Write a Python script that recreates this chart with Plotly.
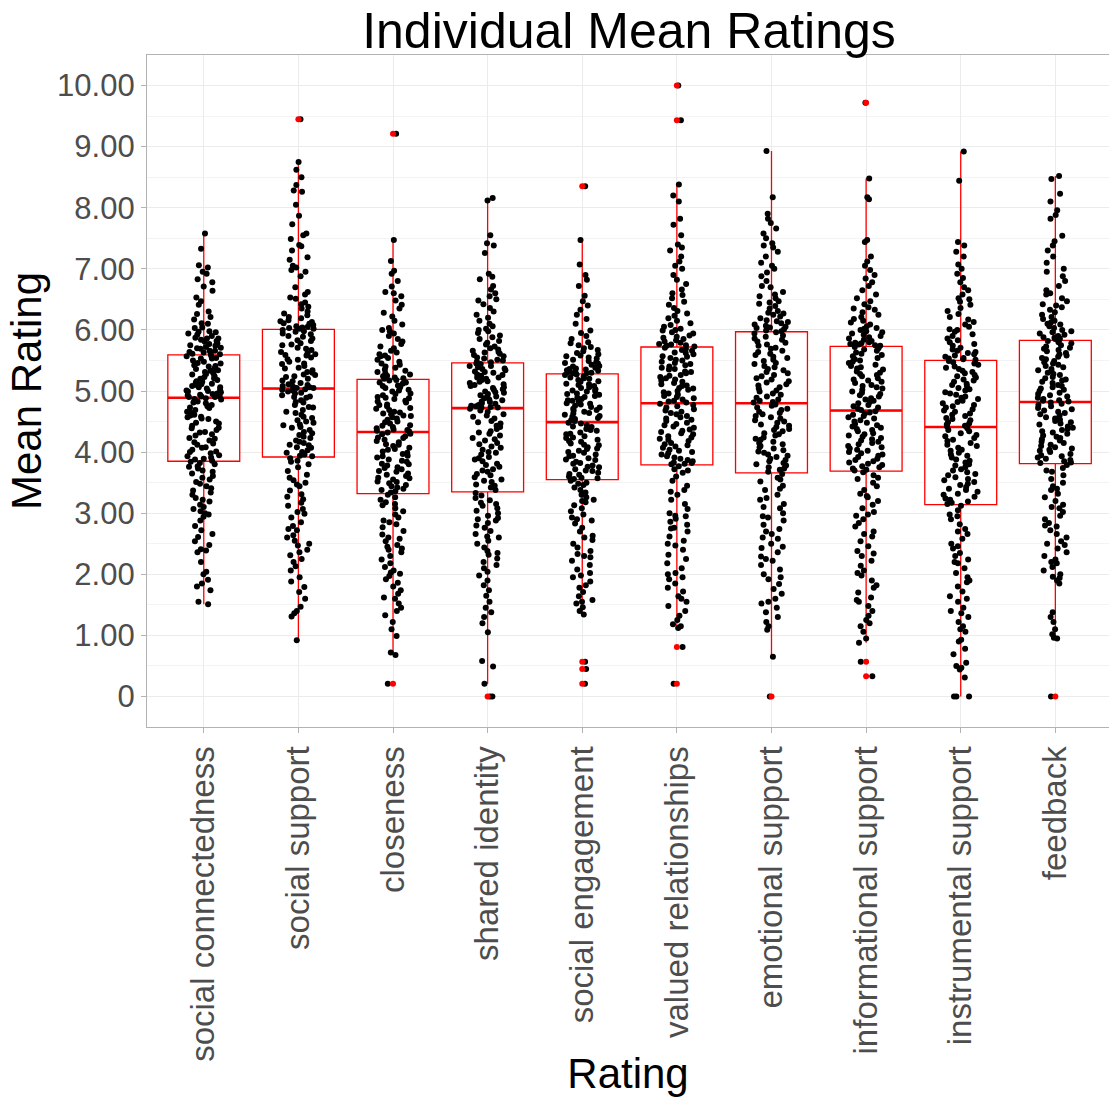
import plotly.graph_objects as go

# Rating categories (x axis order)
categories = [
    "social connectedness", "social support", "closeness", "shared identity",
    "social engagement", "valued relationships", "emotional support",
    "informational support", "instrumental support", "feedback",
]

# Individual mean ratings per category
social_connectedness = [
    7.58, 7.33, 7.06, 7.02, 6.95, 6.92, 6.83, 6.78, 6.71, 6.64, 6.53, 6.47, 6.41, 6.30, 6.26, 6.21,
    6.17, 6.11, 6.10, 6.04, 6.03, 5.98, 5.97, 5.94, 5.92, 5.90, 5.87, 5.86, 5.86, 5.82, 5.81, 5.78,
    5.77, 5.75, 5.74, 5.71, 5.70, 5.69, 5.66, 5.66, 5.64, 5.63, 5.62, 5.61, 5.60, 5.96, 5.84, 5.72,
    5.58, 5.57, 5.54, 5.53, 5.53, 5.50, 5.48, 5.46, 5.45, 5.42, 5.41, 5.40, 5.37, 5.36, 5.34, 5.33,
    5.29, 5.28, 5.27, 5.24, 5.23, 5.21, 5.20, 5.18, 5.16, 5.15, 5.12, 5.11, 5.10, 5.08, 5.06, 5.06,
    5.04, 5.02, 5.01, 4.99, 4.98, 4.96, 4.95, 4.94, 4.93, 4.92, 4.91, 4.90, 4.90, 5.31, 5.14, 5.00,
    4.88, 4.87, 4.86, 4.83, 4.81, 4.80, 4.77, 4.75, 4.73, 4.72, 4.69, 4.66, 4.65, 4.61, 4.60, 4.57,
    4.55, 4.54, 4.50, 4.48, 4.47, 4.43, 4.40, 4.39, 4.36, 4.33, 4.32, 4.29, 4.27, 4.23, 4.22, 4.19,
    4.16, 4.14, 4.12, 4.08, 4.07, 4.04, 4.01, 4.00, 3.98, 3.95, 3.93, 3.91, 3.89, 3.88, 3.86, 4.58,
    3.84, 3.82, 3.80, 3.77, 3.76, 3.73, 3.70, 3.68, 3.65, 3.61, 3.58, 3.55, 3.51, 3.48, 3.44, 3.41,
    3.37, 3.34, 3.30, 3.25, 3.22, 3.19, 3.14, 3.10, 3.07, 3.03, 3.00, 2.98, 2.94, 2.88, 2.79, 2.72,
    2.66, 2.61, 2.54, 2.48, 2.41, 2.39, 2.36, 2.20, 2.04, 2.00, 1.91, 1.85, 1.80, 1.74, 1.55, 1.51,
]
social_support = [
    9.45,
    8.75, 8.62, 8.50, 8.37, 8.28, 8.26, 8.05, 7.87, 7.73, 7.58, 7.55, 7.49, 7.39, 7.37, 7.30, 7.19,
    7.15, 7.05, 7.02, 6.98, 6.95, 6.88, 6.70, 6.62, 6.53, 6.51, 6.45, 6.38, 6.35, 6.30, 6.24, 6.21,
    6.19, 6.16, 6.13, 6.11, 6.08, 6.06, 6.05, 6.04, 6.03, 6.02, 6.02, 6.14, 6.27, 6.42, 6.58, 6.10,
    6.00, 5.98, 5.97, 5.94, 5.93, 5.90, 5.89, 5.86, 5.83, 5.82, 5.78, 5.76, 5.75, 5.71, 5.69, 5.67,
    5.64, 5.62, 5.59, 5.58, 5.55, 5.52, 5.51, 5.48, 5.45, 5.44, 5.41, 5.38, 5.37, 5.34, 5.31, 5.30,
    5.27, 5.24, 5.23, 5.20, 5.17, 5.16, 5.13, 5.11, 5.10, 5.08, 5.07, 5.06, 5.05, 5.05, 5.60, 5.26,
    5.03, 5.02, 5.01, 4.99, 4.97, 4.96, 4.93, 4.90, 4.89, 4.85, 4.82, 4.81, 4.77, 4.74, 4.73, 4.69,
    4.66, 4.64, 4.61, 4.58, 4.56, 4.52, 4.50, 4.48, 4.44, 4.41, 4.40, 4.36, 4.33, 4.31, 4.28, 4.25,
    4.23, 4.19, 4.17, 4.15, 4.11, 4.08, 4.07, 4.03, 4.00, 3.99, 3.96, 3.94, 3.93, 4.91, 4.45, 4.12,
    3.90, 3.86, 3.80, 3.75, 3.69, 3.63, 3.58, 3.54, 3.50, 3.44, 3.37, 3.31, 3.23, 3.17, 3.12, 3.07,
    2.99, 2.93, 2.85, 2.79, 2.74, 2.72, 2.64, 2.55, 2.50, 2.47, 2.40, 2.36, 2.31, 2.25, 2.20, 2.13,
    2.06, 1.95, 1.79, 1.71, 1.60, 1.47, 1.40, 1.36, 1.31, 0.92, 3.84, 3.47, 3.02, 2.60, 1.88, 3.27,
]
closeness = [
    9.21,
    7.47, 7.13, 6.97, 6.92, 6.80, 6.71, 6.62, 6.55, 6.48, 6.41, 6.35, 6.28, 6.22, 6.15, 6.09, 6.03,
    5.98, 5.94, 5.90, 5.85, 5.81, 5.77, 5.73, 5.70, 5.66, 5.63, 5.60, 5.57, 5.54, 5.51, 5.48, 5.45,
    5.43, 5.40, 5.38, 5.35, 5.33, 5.31, 5.29, 5.27, 5.25, 5.24, 5.22, 5.21, 5.20, 6.60, 6.00, 5.58,
    5.18, 5.17, 5.14, 5.14, 5.12, 5.09, 5.08, 5.06, 5.05, 5.02, 5.01, 4.99, 4.96, 4.95, 4.93, 4.90,
    4.89, 4.87, 4.84, 4.83, 4.81, 4.78, 4.77, 4.75, 4.72, 4.71, 4.69, 4.66, 4.65, 4.63, 4.60, 4.59,
    4.57, 4.55, 4.53, 4.50, 4.49, 4.47, 4.44, 4.43, 4.41, 4.39, 4.37, 4.36, 4.35, 4.34, 4.88, 4.62,
    4.32, 4.30, 4.29, 4.26, 4.24, 4.23, 4.20, 4.18, 4.16, 4.13, 4.12, 4.10, 4.07, 4.05, 4.04, 4.01,
    3.99, 3.97, 3.94, 3.93, 3.91, 3.88, 3.86, 3.84, 3.81, 3.80, 3.78, 3.75, 3.74, 3.72, 3.69, 3.68,
    3.65, 3.63, 3.61, 3.58, 3.57, 3.55, 3.52, 3.51, 3.49, 3.46, 3.44, 3.42, 3.40, 3.38, 3.36, 3.34,
    3.30, 3.26, 3.22, 3.18, 3.13, 3.08, 3.03, 2.98, 2.93, 2.88, 2.82, 2.77, 2.71, 2.65, 2.60, 2.54,
    2.48, 2.42, 2.40, 2.36, 2.30, 2.24, 2.18, 2.12, 2.06, 2.01, 1.97, 1.92, 1.86, 1.80, 1.74, 1.68,
    1.60, 1.52, 1.45, 1.40, 1.33, 1.22, 1.10, 0.99, 0.72, 0.68, 2.45, 2.03, 1.62, 3.15, 2.85, 2.58,
    0.21,
]
shared_identity = [
    8.16, 8.12, 7.55, 7.42, 7.38, 7.26, 6.92, 6.87, 6.83, 6.72, 6.66, 6.60, 6.55, 6.48, 6.42, 6.36,
    6.30, 6.25, 6.20, 6.15, 6.10, 6.06, 6.02, 5.98, 5.95, 5.91, 5.88, 5.85, 5.82, 5.79, 5.76, 5.73,
    5.70, 5.68, 5.66, 5.63, 5.61, 5.59, 5.57, 5.55, 5.53, 5.51, 5.50, 5.48, 5.47, 6.50, 6.00, 5.64,
    5.45, 5.44, 5.41, 5.41, 5.39, 5.37, 5.36, 5.34, 5.32, 5.31, 5.30, 5.27, 5.26, 5.25, 5.22, 5.22,
    5.20, 5.18, 5.16, 5.15, 5.13, 5.11, 5.10, 5.08, 5.06, 5.05, 5.03, 5.02, 4.99, 4.98, 4.97, 4.95,
    4.93, 4.91, 4.90, 4.88, 4.86, 4.85, 4.83, 4.82, 4.80, 4.79, 4.77, 4.76, 4.75, 4.74, 4.73, 4.73,
    4.71, 4.68, 4.66, 4.62, 4.60, 4.58, 4.55, 4.51, 4.49, 4.47, 4.43, 4.41, 4.38, 4.34, 4.32, 4.30,
    4.27, 4.23, 4.21, 4.19, 4.15, 4.13, 4.09, 4.07, 4.04, 4.00, 3.99, 3.96, 3.92, 3.90, 3.88, 3.85,
    3.81, 3.79, 3.76, 3.72, 3.70, 3.68, 3.64, 3.62, 3.59, 3.55, 3.53, 3.51, 3.47, 3.45, 3.42, 3.38,
    3.33, 3.29, 3.25, 3.21, 3.17, 3.12, 3.08, 3.04, 3.00, 2.96, 2.92, 2.88, 2.84, 2.80, 2.76, 2.71,
    2.66, 2.60, 2.55, 2.50, 2.44, 2.38, 2.32, 2.26, 2.20, 2.15, 2.10, 2.04, 1.98, 1.90, 1.82, 1.74,
    1.65, 1.55, 1.45, 1.38, 1.30, 1.20, 1.05, 0.58, 0.49, 0.21, 0.00, 0.00, 3.15, 2.90, 2.62, 2.35,
]
social_engagement = [
    8.35,
    7.47, 7.07, 6.90, 6.82, 6.72, 6.56, 6.47, 6.40, 6.33, 6.25, 6.18, 6.10, 5.99, 5.95, 5.90, 5.85,
    5.80, 5.78, 5.75, 5.72, 5.70, 5.67, 5.65, 5.62, 5.60, 5.58, 5.55, 5.53, 5.51, 5.49, 5.47, 5.45,
    5.43, 5.41, 5.40, 5.38, 5.37, 5.35, 5.34, 5.33, 5.32, 5.31, 5.30, 5.29, 5.29, 5.57, 5.46, 5.36,
    5.27, 5.26, 5.24, 5.22, 5.21, 5.20, 5.18, 5.16, 5.15, 5.12, 5.11, 5.10, 5.08, 5.06, 5.05, 5.03,
    5.01, 5.00, 4.99, 4.96, 4.95, 4.94, 4.92, 4.90, 4.89, 4.87, 4.85, 4.84, 4.83, 4.80, 4.79, 4.78,
    4.76, 4.74, 4.73, 4.71, 4.69, 4.68, 4.66, 4.64, 4.63, 4.61, 4.59, 4.58, 4.56, 4.54, 4.52, 4.51,
    4.48, 4.47, 4.44, 4.42, 4.41, 4.38, 4.36, 4.35, 4.32, 4.30, 4.29, 4.26, 4.24, 4.23, 4.20, 4.18,
    4.17, 4.14, 4.12, 4.11, 4.08, 4.06, 4.05, 4.02, 4.00, 3.99, 3.96, 3.94, 3.93, 3.90, 3.88, 3.87,
    3.84, 3.82, 3.81, 3.78, 3.76, 3.75, 3.72, 3.70, 3.69, 3.66, 3.64, 3.63, 3.60, 3.58, 3.57, 3.56,
    3.53, 3.50, 3.46, 3.42, 3.38, 3.34, 3.30, 3.26, 3.22, 3.18, 3.13, 3.08, 3.03, 2.98, 2.93, 2.88,
    2.83, 2.76, 2.70, 2.63, 2.56, 2.50, 2.44, 2.38, 2.33, 2.28, 2.22, 2.15, 2.08, 2.02, 1.95, 1.88,
    1.82, 1.78, 1.71, 1.64, 1.58, 1.52, 1.46, 1.40, 1.34, 3.48, 3.20, 2.90, 2.60, 2.30, 1.98, 1.55,
    0.57, 0.45, 0.21,
]
valued_relationships = [
    10.00, 9.43,
    8.38, 8.20, 8.10, 7.82, 7.72, 7.55, 7.40, 7.35, 7.30, 7.20, 7.12, 7.05, 7.00, 6.90, 6.82, 6.75,
    6.66, 6.57, 6.52, 6.46, 6.41, 6.36, 6.31, 6.27, 6.23, 6.19, 6.15, 6.11, 6.08, 6.05, 6.02, 5.99,
    5.96, 5.94, 5.91, 5.89, 5.87, 5.85, 5.83, 5.81, 5.79, 5.77, 5.76, 5.75, 5.74, 5.73, 6.60, 6.00,
    5.71, 5.69, 5.67, 5.66, 5.63, 5.62, 5.60, 5.57, 5.56, 5.54, 5.51, 5.50, 5.48, 5.46, 5.44, 5.42,
    5.40, 5.38, 5.36, 5.35, 5.32, 5.31, 5.29, 5.26, 5.25, 5.23, 5.21, 5.19, 5.17, 5.15, 5.13, 5.11,
    5.09, 5.08, 5.05, 5.04, 5.02, 5.00, 4.98, 4.96, 4.94, 4.92, 4.90, 4.88, 4.86, 4.84, 4.83, 4.81,
    4.79, 4.77, 4.75, 4.73, 4.70, 4.68, 4.66, 4.64, 4.62, 4.59, 4.57, 4.55, 4.53, 4.51, 4.48, 4.46,
    4.44, 4.42, 4.40, 4.37, 4.35, 4.33, 4.31, 4.29, 4.26, 4.24, 4.22, 4.20, 4.18, 4.15, 4.13, 4.11,
    4.09, 4.07, 4.04, 4.02, 4.00, 3.98, 3.96, 3.93, 3.91, 3.89, 3.87, 3.85, 3.83, 3.82, 3.81, 3.80,
    3.77, 3.72, 3.66, 3.60, 3.53, 3.45, 3.38, 3.30, 3.22, 3.15, 3.07, 3.00, 2.96, 2.91, 2.86, 2.81,
    2.76, 2.70, 2.62, 2.55, 2.47, 2.40, 2.32, 2.25, 2.18, 2.10, 2.02, 1.95, 1.92, 1.85, 1.78, 1.72,
    1.64, 1.55, 1.48, 1.40, 1.32, 1.25, 1.18, 1.15, 1.12, 3.70, 3.35, 2.95, 2.75, 2.50, 2.00, 1.60,
    0.81, 0.21,
]
emotional_support = [
    8.93, 8.17, 7.90, 7.82, 7.75, 7.66, 7.58, 7.50, 7.42, 7.35, 7.28, 7.20, 7.05, 7.00, 6.94, 6.88,
    6.80, 6.72, 6.58, 6.52, 6.47, 6.43, 6.39, 6.35, 6.31, 6.28, 6.25, 6.22, 6.19, 6.16, 6.13, 6.11,
    6.09, 6.07, 6.05, 6.03, 6.01, 5.99, 5.98, 6.62, 6.45, 6.27, 6.14, 6.04, 7.38, 7.10, 6.70, 6.55,
    5.96, 5.94, 5.91, 5.89, 5.86, 5.84, 5.81, 5.79, 5.76, 5.74, 5.71, 5.69, 5.66, 5.64, 5.61, 5.59,
    5.56, 5.54, 5.51, 5.49, 5.46, 5.44, 5.41, 5.39, 5.36, 5.34, 5.31, 5.29, 5.26, 5.24, 5.21, 5.19,
    5.16, 5.14, 5.11, 5.09, 5.06, 5.04, 5.01, 4.99, 4.96, 4.94, 4.91, 4.89, 4.86, 4.84, 4.82, 4.81,
    4.78, 4.76, 4.73, 4.71, 4.69, 4.66, 4.64, 4.62, 4.59, 4.57, 4.55, 4.52, 4.50, 4.48, 4.45, 4.43,
    4.41, 4.38, 4.36, 4.34, 4.31, 4.29, 4.27, 4.24, 4.22, 4.20, 4.17, 4.15, 4.13, 4.10, 4.08, 4.06,
    4.03, 4.01, 3.99, 3.96, 3.94, 3.92, 3.89, 3.87, 3.85, 3.82, 3.80, 3.78, 3.75, 3.73, 3.71, 3.68,
    3.64, 3.58, 3.52, 3.45, 3.38, 3.30, 3.22, 3.15, 3.08, 3.00, 2.93, 2.88, 2.81, 2.74, 2.66, 2.58,
    2.50, 2.43, 2.36, 2.29, 2.22, 2.15, 2.08, 2.00, 1.92, 1.84, 1.76, 1.68, 1.60, 1.52, 1.45, 1.38,
    1.30, 1.22, 1.15, 1.09, 0.65, 3.55, 3.25, 2.95, 2.70, 2.45, 2.25, 1.95, 1.55, 3.40, 3.10, 2.60,
    0.00,
]
informational_support = [
    9.72,
    8.48, 8.17, 8.14, 7.47, 7.44, 7.20, 7.12, 7.05, 6.98, 6.90, 6.84, 6.78, 6.72, 6.58, 6.52, 6.47,
    6.42, 6.37, 6.33, 6.29, 6.25, 6.21, 6.18, 6.15, 6.12, 6.09, 6.06, 6.03, 6.00, 5.98, 5.96, 5.94,
    5.92, 5.90, 5.88, 5.86, 5.84, 5.82, 5.80, 5.79, 5.78, 5.77, 5.76, 5.75, 5.74, 6.65, 6.35, 6.02,
    5.72, 5.70, 5.68, 5.66, 5.63, 5.61, 5.59, 5.57, 5.54, 5.52, 5.50, 5.48, 5.46, 5.43, 5.41, 5.39,
    5.37, 5.35, 5.32, 5.30, 5.28, 5.26, 5.24, 5.21, 5.19, 5.17, 5.15, 5.13, 5.10, 5.08, 5.06, 5.04,
    5.02, 4.99, 4.97, 4.95, 4.93, 4.91, 4.88, 4.86, 4.84, 4.82, 4.80, 4.77, 4.75, 4.73, 4.71, 4.69,
    4.67, 4.65, 4.63, 4.61, 4.59, 4.57, 4.55, 4.52, 4.50, 4.48, 4.46, 4.44, 4.42, 4.40, 4.38, 4.36,
    4.34, 4.31, 4.29, 4.27, 4.25, 4.23, 4.21, 4.19, 4.17, 4.15, 4.13, 4.10, 4.08, 4.06, 4.04, 4.02,
    4.00, 3.98, 3.96, 3.94, 3.92, 3.89, 3.87, 3.85, 3.83, 3.81, 3.79, 3.77, 3.75, 3.73, 3.71, 3.70,
    3.67, 3.62, 3.56, 3.50, 3.44, 3.38, 3.32, 3.26, 3.20, 3.14, 3.08, 3.02, 2.96, 2.90, 2.84, 2.78,
    2.70, 2.62, 2.54, 2.46, 2.38, 2.30, 2.22, 2.14, 2.06, 1.98, 1.90, 1.82, 1.78, 1.70, 1.62, 1.55,
    1.48, 1.40, 1.32, 1.25, 1.15, 1.06, 0.95, 0.88, 3.58, 3.28, 2.98, 2.66, 2.34, 2.02, 1.58, 1.20,
    0.57, 0.33,
]
instrumental_support = [
    8.92, 8.44, 7.44, 7.38, 7.28, 7.20, 7.07, 7.00, 6.92, 6.85, 6.78, 6.70, 6.65, 6.58, 6.52, 6.46,
    6.41, 6.36, 6.31, 6.26, 6.21, 6.17, 6.13, 6.09, 6.05, 6.01, 5.97, 5.93, 5.90, 5.86, 5.83, 5.80,
    5.77, 5.74, 5.71, 5.68, 5.66, 5.64, 5.62, 5.60, 5.58, 5.56, 5.54, 5.53, 5.52, 5.51, 6.50, 6.00,
    5.49, 5.47, 5.45, 5.43, 5.40, 5.38, 5.36, 5.33, 5.31, 5.29, 5.26, 5.24, 5.22, 5.19, 5.17, 5.15,
    5.12, 5.10, 5.08, 5.05, 5.03, 5.01, 4.98, 4.96, 4.94, 4.91, 4.89, 4.87, 4.84, 4.82, 4.80, 4.77,
    4.75, 4.73, 4.70, 4.68, 4.66, 4.63, 4.61, 4.59, 4.56, 4.54, 4.52, 4.49, 4.47, 4.45, 4.43, 4.42,
    4.39, 4.36, 4.34, 4.31, 4.28, 4.26, 4.23, 4.20, 4.18, 4.15, 4.12, 4.10, 4.07, 4.04, 4.02, 3.99,
    3.96, 3.94, 3.91, 3.88, 3.86, 3.83, 3.80, 3.78, 3.75, 3.72, 3.70, 3.67, 3.64, 3.62, 3.59, 3.56,
    3.54, 3.51, 3.48, 3.46, 3.43, 3.40, 3.38, 3.35, 3.32, 3.30, 3.27, 3.24, 3.22, 3.19, 3.17, 3.15,
    3.12, 3.05, 2.98, 2.90, 2.82, 2.74, 2.66, 2.58, 2.50, 2.42, 2.35, 2.30, 2.24, 2.18, 2.10, 2.02,
    1.95, 1.87, 1.80, 1.72, 1.64, 1.55, 1.45, 1.36, 1.30, 1.22, 1.10, 1.06, 0.93, 0.90, 0.69, 0.55,
    0.50, 0.47, 0.44, 0.31, 0.00, 0.00, 0.00, 2.95, 2.70, 2.46, 2.20, 1.90, 1.60, 1.40, 1.15, 0.78,
]
feedback = [
    8.52, 8.47, 8.23, 8.10, 7.96, 7.88, 7.82, 7.54, 7.45, 7.38, 7.30, 7.20, 7.00, 6.95, 6.88, 6.80,
    6.72, 6.65, 6.58, 6.52, 6.47, 6.42, 6.37, 6.33, 6.29, 6.25, 6.21, 6.18, 6.15, 6.12, 6.09, 6.06,
    6.03, 6.00, 5.98, 5.96, 5.94, 5.92, 5.90, 5.88, 5.87, 5.86, 5.85, 5.84, 6.60, 6.40, 6.10, 7.10,
    5.82, 5.80, 5.78, 5.75, 5.73, 5.71, 5.69, 5.67, 5.65, 5.62, 5.60, 5.58, 5.56, 5.54, 5.52, 5.49,
    5.47, 5.45, 5.43, 5.41, 5.39, 5.36, 5.34, 5.32, 5.30, 5.28, 5.26, 5.23, 5.21, 5.19, 5.17, 5.15,
    5.13, 5.10, 5.08, 5.06, 5.04, 5.02, 5.00, 4.97, 4.95, 4.93, 4.91, 4.89, 4.87, 4.85, 4.84, 4.83,
    4.81, 4.79, 4.77, 4.75, 4.72, 4.70, 4.68, 4.66, 4.64, 4.62, 4.60, 4.57, 4.55, 4.53, 4.51, 4.49,
    4.47, 4.45, 4.42, 4.40, 4.38, 4.36, 4.34, 4.32, 4.30, 4.27, 4.25, 4.23, 4.21, 4.19, 4.17, 4.15,
    4.12, 4.10, 4.08, 4.06, 4.04, 4.02, 4.00, 3.97, 3.95, 3.93, 3.91, 3.89, 3.87, 3.85, 3.83, 3.82,
    3.79, 3.74, 3.68, 3.62, 3.56, 3.50, 3.44, 3.38, 3.32, 3.26, 3.20, 3.14, 3.08, 3.02, 2.96, 2.90,
    2.84, 2.78, 2.72, 2.66, 2.60, 2.54, 2.48, 2.42, 2.36, 2.30, 2.24, 2.18, 2.12, 2.06, 2.00, 1.94,
    1.90, 1.85, 1.38, 1.30, 1.22, 1.10, 1.02, 0.96, 0.95, 3.70, 3.40, 3.10, 2.80, 2.50, 2.20, 1.96,
    0.00,
]

# Box summary per category (same order as categories)
q1 = [3.85, 3.92, 3.32, 3.35, 3.55, 3.79, 3.66, 3.69, 3.14, 3.81]
medians = [4.89, 5.04, 4.33, 4.72, 4.49, 4.80, 4.80, 4.68, 4.41, 4.82]
q3 = [5.59, 6.01, 5.19, 5.46, 5.28, 5.72, 5.97, 5.73, 5.50, 5.83]
lower_whisker = [1.51, 0.92, 0.68, 0.21, 1.34, 1.12, 0.65, 0.88, 0.00, 0.95]
upper_whisker = [7.58, 8.75, 7.47, 8.16, 7.47, 8.38, 8.93, 8.48, 8.92, 8.52]

# Points beyond the whiskers
outlier_category = [
    "social support", "closeness", "closeness", "shared identity",
    "social engagement", "social engagement", "social engagement", "social engagement",
    "valued relationships", "valued relationships", "valued relationships", "valued relationships",
    "emotional support", "informational support", "informational support", "informational support",
    "feedback",
]
outlier_value = [9.45, 9.21, 0.21, 0.00, 8.35, 0.57, 0.45, 0.21,
                 10.00, 9.43, 0.81, 0.21, 0.00, 9.72, 0.57, 0.33, 0.00]

# y axis ticks
rating_ticks = [0, 1, 2, 3, 4, 5, 6, 7, 8, 9, 10]
rating_tick_labels = ["0", "1.00", "2.00", "3.00", "4.00", "5.00",
                      "6.00", "7.00", "8.00", "9.00", "10.00"]

samples = [social_connectedness, social_support, closeness, shared_identity,
           social_engagement, valued_relationships, emotional_support,
           informational_support, instrumental_support, feedback]

point_x, point_y = [], []
for cat, vals in zip(categories, samples):
    point_x.extend([cat] * len(vals))
    point_y.extend(vals)

RED = "#FF0000"
FONT = "Liberation Sans, Arial, Helvetica, sans-serif"
CLEAR = "rgba(0,0,0,0)"

fig = go.Figure()

# boxes and whiskers
fig.add_trace(go.Box(
    x=categories, q1=q1, median=medians, q3=q3,
    lowerfence=lower_whisker, upperfence=upper_whisker,
    boxpoints=False, whiskerwidth=0, fillcolor="white",
    line=dict(color=RED, width=1.3), hoverinfo="skip",
))
# heavier median bar
fig.add_trace(go.Box(
    x=categories, q1=medians, median=medians, q3=medians,
    lowerfence=medians, upperfence=medians,
    boxpoints=False, whiskerwidth=0, fillcolor=CLEAR,
    line=dict(color=RED, width=2.6), hoverinfo="skip",
))
# every individual rating, jittered
fig.add_trace(go.Box(
    x=point_x, y=point_y, boxpoints="all", jitter=0.5, pointpos=0,
    marker=dict(color="black", size=6), line=dict(width=0), fillcolor=CLEAR,
    hoverinfo="skip",
))
# outliers at the box centre
fig.add_trace(go.Box(
    x=outlier_category, y=outlier_value, boxpoints="all", jitter=0, pointpos=0,
    marker=dict(color=RED, size=6), line=dict(width=0), fillcolor=CLEAR,
    hoverinfo="skip",
))

fig.update_layout(
    width=1109, height=1097,
    margin=dict(l=147, r=0, t=55, b=366),
    paper_bgcolor="white", plot_bgcolor="white",
    showlegend=False, boxmode="overlay", boxgap=0.24, boxgroupgap=0,
    font=dict(family=FONT, color="black"),
    title=dict(text="Individual Mean Ratings", font=dict(size=50, color="black"),
               x=629 / 1109, xanchor="center", xref="container",
               y=1 - 30 / 1097, yanchor="middle", yref="container"),
)
fig.update_xaxes(
    type="category", categoryorder="array", categoryarray=categories,
    range=[-0.6, 9.567],
    tickangle=-90, tickfont=dict(size=33, color="#4d4d4d"),
    ticks="outside", ticklen=5, tickcolor="#b3b3b3",
    showgrid=True, gridcolor="#ebebeb", gridwidth=1,
    showline=True, linecolor="#b3b3b3", linewidth=1.2, mirror=True,
    title=dict(text="Rating", font=dict(size=42, color="black"), standoff=6),
    zeroline=False,
)
fig.update_yaxes(
    range=[-0.5, 10.5], tickmode="array", tickvals=rating_ticks, ticktext=rating_tick_labels,
    tickfont=dict(size=31, color="#4d4d4d"),
    ticks="outside", ticklen=5, tickcolor="#b3b3b3",
    showgrid=True, gridcolor="#ebebeb", gridwidth=1.2,
    minor=dict(dtick=0.5, tick0=0, showgrid=True, gridcolor="#f3f3f3", gridwidth=0.8, ticks=""),
    showline=True, linecolor="#b3b3b3", linewidth=1.2,
    title=dict(text="Mean Rating", font=dict(size=42, color="black"), standoff=2),
    zeroline=False,
)

fig.write_html("out.html")
